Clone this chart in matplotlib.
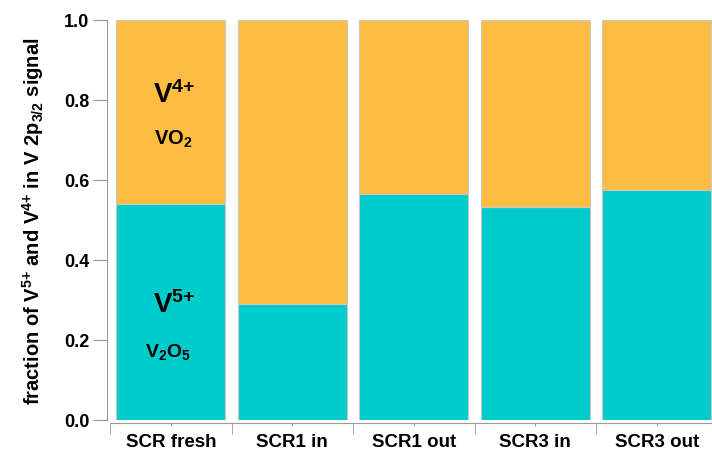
import numpy as np
import matplotlib
matplotlib.use('Agg')
import matplotlib.pyplot as plt

plt.rcParams['font.family'] = ['Liberation Sans', 'DejaVu Sans']
plt.rcParams['font.weight'] = 'bold'
plt.rcParams['mathtext.default'] = 'regular'

categories = ['SCR fresh', 'SCR1 in', 'SCR1 out', 'SCR3 in', 'SCR3 out']
v5_fraction = [0.54, 0.29, 0.565, 0.533, 0.575]
v4_fraction = [1 - v for v in v5_fraction]

teal = '#00CCCC'
orange = '#FDBD42'
grey = '#9a9a9a'

fig = plt.figure(figsize=(7.12, 4.52), dpi=100)
ax = fig.add_axes([110 / 712, 1 - 421 / 452, 1 - 110 / 712, 400 / 452])

x = np.arange(len(categories))
ax.bar(x, v5_fraction, width=0.9, color=teal, edgecolor='#c8c8c8', linewidth=0.8)
ax.bar(x, v4_fraction, width=0.9, bottom=v5_fraction, color=orange,
       edgecolor='#c8c8c8', linewidth=0.8)

ax.set_xlim(-0.5, -0.5 + (712 - 110) / 121.5)
ax.set_ylim(0, 1.0)

# labels at bar centres, long ticks at category boundaries
ax.set_xticks(x, categories)
ax.set_xticks(np.arange(len(categories)) - 0.5, minor=True)
ax.tick_params(axis='x', which='major', length=2.5, color=grey, pad=5, labelsize=13.5)
ax.tick_params(axis='x', which='minor', length=8, color=grey)

yt = np.arange(0, 1.01, 0.2)
ax.set_yticks(yt, [f'{v:.1f}' for v in yt])
ax.tick_params(axis='y', length=10, color=grey, pad=3, labelsize=13)

for lbl in ax.get_xticklabels() + ax.get_yticklabels():
    lbl.set_fontweight('bold')

for s in ['top', 'right']:
    ax.spines[s].set_visible(False)
for s in ['left', 'bottom']:
    ax.spines[s].set_color(grey)
    ax.spines[s].set_position(('outward', 2))

ax.set_ylabel('fraction of V$^{5{+}}$ and V$^{4{+}}$ in V 2p$_{3/2}$ signal',
              fontsize=14.5, fontweight='bold', labelpad=13)

ax.text(0.03, 0.795, 'V$^{4{+}}$', ha='center', va='baseline', fontsize=20, fontweight='bold')
ax.text(0.02, 0.69, 'VO$_2$', ha='center', va='baseline', fontsize=14.5, fontweight='bold')
ax.text(0.03, 0.27, 'V$^{5{+}}$', ha='center', va='baseline', fontsize=20, fontweight='bold')
ax.text(-0.02, 0.16, 'V$_2$O$_5$', ha='center', va='baseline', fontsize=14, fontweight='bold')

fig.savefig('out.png', dpi=100)
